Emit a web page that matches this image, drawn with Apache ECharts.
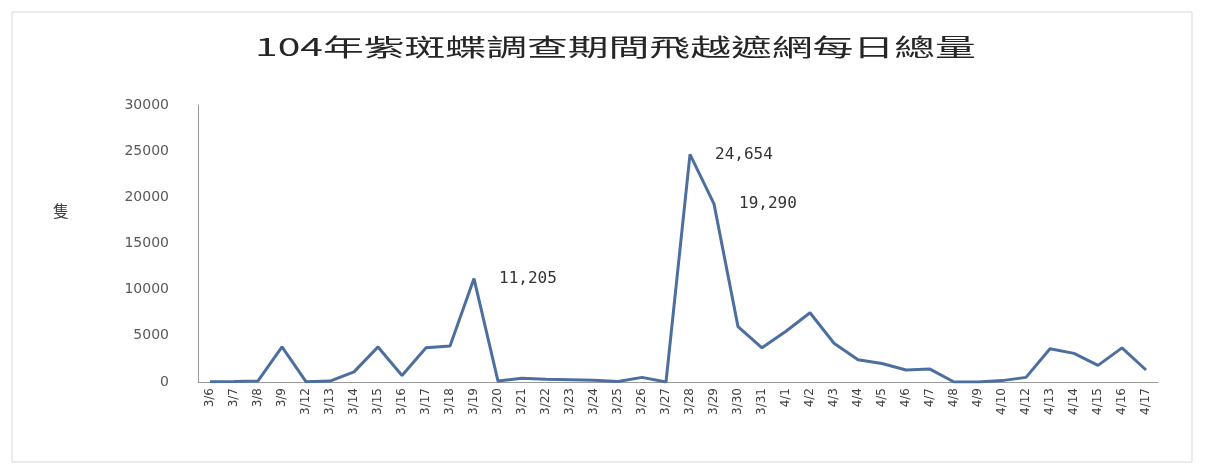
<!DOCTYPE html>
<html>
<head>
<meta charset="utf-8">
<title>104年紫斑蝶調查期間飛越遮網每日總量</title>
<script src="https://cdn.jsdelivr.net/npm/echarts@6/dist/echarts.min.js"></script>
<style>
  html, body { margin: 0; padding: 0; background: #ffffff; }
  #chart { width: 1206px; height: 469px; }
</style>
</head>
<body>
<div id="chart"></div>
<script>
// Survey dates (3/10, 3/11 and 4/11 have no record)
const dates = [
  '3/6', '3/7', '3/8', '3/9', '3/12', '3/13', '3/14', '3/15', '3/16', '3/17',
  '3/18', '3/19', '3/20', '3/21', '3/22', '3/23', '3/24', '3/25', '3/26', '3/27',
  '3/28', '3/29', '3/30', '3/31', '4/1', '4/2', '4/3', '4/4', '4/5', '4/6',
  '4/7', '4/8', '4/9', '4/10', '4/12', '4/13', '4/14', '4/15', '4/16', '4/17'
];

// Daily total of butterflies crossing the net
const dailyTotal = [
  40, 60, 120, 3800, 40, 100, 1100, 3800, 700, 3700,
  3900, 11205, 100, 400, 300, 250, 200, 60, 500, 0,
  24654, 19290, 6000, 3700, 5500, 7500, 4200, 2400, 2000, 1300,
  1400, 0, 0, 150, 500, 3600, 3100, 1800, 3700, 1300
];

// Days whose totals are printed beside the line
const labelledDates = ['3/19', '3/28', '3/29'];

const yTicks = { min: 0, max: 30000, interval: 5000 };

const fmt = v => String(v).replace(/\B(?=(\d{3})+(?!\d))/g, ',');

const chart = echarts.init(document.getElementById('chart'));

chart.setOption({
  backgroundColor: '#ffffff',
  animation: false,
  graphic: [
    {
      type: 'rect',
      silent: true,
      shape: { x: 12, y: 12, width: 1180, height: 450 },
      style: { fill: 'none', stroke: '#d9d9d9', lineWidth: 1 }
    },
    {
      type: 'text',
      left: 255,
      top: 35,
      scaleX: 1.7,
      originX: 0,
      style: {
        text: '104年紫斑蝶調查期間飛越遮網每日總量',
        font: '24px "Noto Sans CJK TC", sans-serif',
        fill: '#262626'
      }
    },
    {
      // unit of the value axis
      type: 'text',
      left: 53,
      top: 203,
      style: {
        text: '隻',
        font: '16px "Noto Sans CJK TC", sans-serif',
        fill: '#404040'
      }
    }
  ],
  grid: { left: 198, right: 48, top: 105, bottom: 87 },
  xAxis: {
    type: 'category',
    data: dates,
    boundaryGap: true,
    axisLine: { lineStyle: { color: '#9a9a9a', width: 1 } },
    axisTick: { show: false },
    axisLabel: {
      interval: 0,
      rotate: 90,
      margin: 6,
      color: '#404040',
      fontFamily: '"DejaVu Sans", sans-serif',
      fontSize: 12
    }
  },
  yAxis: {
    type: 'value',
    min: yTicks.min,
    max: yTicks.max,
    interval: yTicks.interval,
    axisLine: { show: true, lineStyle: { color: '#9a9a9a', width: 1 } },
    axisTick: { show: false },
    splitLine: { show: false },
    axisLabel: {
      margin: 29,
      color: '#595959',
      fontFamily: '"DejaVu Sans", sans-serif',
      fontSize: 14,
      formatter: v => String(v)
    }
  },
  series: [
    {
      type: 'line',
      data: dailyTotal,
      symbol: 'circle',
      symbolSize: 2,
      showSymbol: true,
      itemStyle: { color: 'rgba(0,0,0,0)', borderWidth: 0 },
      lineStyle: { color: '#4d6f9f', width: 3 },
      label: {
        show: true,
        position: 'right',
        distance: 24,
        offset: [0, 4],
        formatter: p => (labelledDates.includes(dates[p.dataIndex]) ? fmt(p.value) : ''),
        color: '#333333',
        fontFamily: '"DejaVu Sans Mono", monospace',
        fontSize: 16
      },
      labelLayout: { hideOverlap: false }
    }
  ]
});
</script>
</body>
</html>
